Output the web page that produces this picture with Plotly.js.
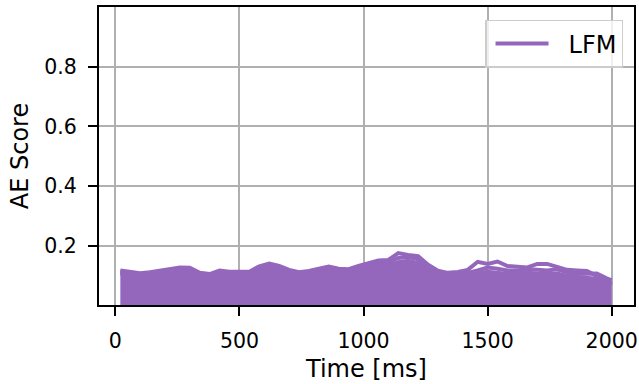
<!DOCTYPE html>
<html>
<head>
<meta charset="utf-8">
<script src="https://cdn.plot.ly/plotly-3.0.1.min.js"></script>
<style>
  html, body { margin: 0; padding: 0; background: #ffffff; }
  #chart { width: 639px; height: 384px; }
</style>
</head>
<body>
<div id="chart"></div>
<script>
// Sample times (ms)
const timeMs = [20, 60, 100, 140, 180, 220, 260, 300, 340, 380, 420, 460, 500, 540, 580, 620, 660, 700, 740, 780,
  820, 860, 900, 940, 980, 1020, 1060, 1100, 1140, 1180, 1220, 1260, 1300, 1340, 1380, 1420, 1460, 1500, 1540, 1580,
  1620, 1660, 1700, 1740, 1780, 1820, 1860, 1900, 1940, 1980, 2000];

// Dense bulk of the LFM runs (solid band down to zero)
const lfmBulk = [0.108, 0.104, 0.101, 0.104, 0.106, 0.104, 0.110, 0.113, 0.102, 0.099, 0.106, 0.104, 0.103, 0.105, 0.114, 0.122, 0.120, 0.110, 0.103, 0.104,
  0.110, 0.114, 0.110, 0.112, 0.116, 0.126, 0.132, 0.136, 0.146, 0.150, 0.142, 0.122, 0.106, 0.101, 0.103, 0.104, 0.108, 0.114, 0.110, 0.106,
  0.108, 0.110, 0.108, 0.106, 0.108, 0.100, 0.096, 0.094, 0.090, 0.076, 0.068];

// Highest LFM run
const lfmRunA = [0.118, 0.113, 0.109, 0.112, 0.117, 0.120, 0.128, 0.127, 0.110, 0.106, 0.118, 0.114, 0.113, 0.114, 0.132, 0.141, 0.133, 0.120, 0.112, 0.116,
  0.124, 0.131, 0.124, 0.122, 0.133, 0.143, 0.151, 0.153, 0.176, 0.170, 0.166, 0.137, 0.117, 0.110, 0.113, 0.120, 0.147, 0.140, 0.148, 0.133,
  0.130, 0.128, 0.140, 0.140, 0.130, 0.120, 0.118, 0.116, 0.100, 0.082, 0.075];

// Second-highest LFM run
const lfmRunB = [0.114, 0.110, 0.106, 0.110, 0.112, 0.110, 0.118, 0.121, 0.106, 0.103, 0.112, 0.110, 0.108, 0.110, 0.124, 0.132, 0.127, 0.116, 0.108, 0.110,
  0.118, 0.124, 0.117, 0.118, 0.124, 0.136, 0.142, 0.146, 0.160, 0.163, 0.155, 0.130, 0.112, 0.106, 0.108, 0.110, 0.118, 0.128, 0.124, 0.118,
  0.118, 0.122, 0.120, 0.118, 0.122, 0.112, 0.106, 0.108, 0.108, 0.092, 0.085];

const purple = '#9467bd';
const font = 'DejaVu Sans, Liberation Sans, sans-serif';

const traces = [
  {
    x: timeMs, y: lfmBulk, type: 'scatter', mode: 'lines',
    line: {color: purple, width: 4}, fill: 'tozeroy', fillcolor: purple,
    showlegend: false, hoverinfo: 'skip'
  },
  {
    x: timeMs, y: lfmRunB, type: 'scatter', mode: 'lines',
    line: {color: purple, width: 4}, showlegend: false
  },
  {
    x: timeMs, y: lfmRunA, type: 'scatter', mode: 'lines', name: 'LFM',
    line: {color: purple, width: 4}
  }
];

const axisCommon = {
  showline: true, linecolor: '#000000', linewidth: 2, mirror: true,
  ticks: 'outside', ticklen: 9, tickwidth: 2, tickcolor: '#000000',
  showgrid: true, gridcolor: '#b0b0b0', gridwidth: 2,
  zeroline: false, automargin: false, ticklabeloverflow: 'allow',
  tickfont: {family: font, size: 20.5, color: '#000000'}
};

const layout = {
  width: 639, height: 384,
  margin: {l: 99, r: 5, t: 7, b: 79},
  paper_bgcolor: '#ffffff', plot_bgcolor: '#ffffff',
  font: {family: font, color: '#000000'},
  xaxis: Object.assign({}, axisCommon, {
    range: [-66, 2090],
    tickvals: [0, 500, 1000, 1500, 2000],
    ticklabelstandoff: 7,
    title: {text: 'Time [ms]', font: {family: font, size: 24, color: '#000000'}, standoff: 9}
  }),
  yaxis: Object.assign({}, axisCommon, {
    range: [0.0025, 0.999],
    tickvals: [0.2, 0.4, 0.6, 0.8],
    ticktext: ['0.2', '0.4', '0.6', '0.8'],
    ticklabelstandoff: 7,
    title: {text: 'AE Score', font: {family: font, size: 24, color: '#000000'}, standoff: 9}
  }),
  legend: {
    x: 0.9795, y: 0.957, xanchor: 'right', yanchor: 'top',
    bgcolor: 'rgba(255,255,255,0.8)', bordercolor: '#cccccc', borderwidth: 1.5,
    font: {family: font, size: 24, color: '#000000'},
    itemwidth: 72
  },
  showlegend: true
};

Plotly.newPlot('chart', traces, layout, {staticPlot: true, displayModeBar: false}).then(function (gd) {
  // Longer legend line sample, ending a short gap before the label
  const item = gd.querySelector('.legend .traces');
  if (!item) return;
  const text = item.querySelector('.legendtext');
  const tx = text ? parseFloat(text.getAttribute('x')) || 0 : 0;
  item.querySelectorAll('.legendlines path').forEach(function (p) {
    p.setAttribute('d', 'M' + (tx - 73) + ',0h53');
    p.style.strokeWidth = '4px';
  });
});
</script>
</body>
</html>
